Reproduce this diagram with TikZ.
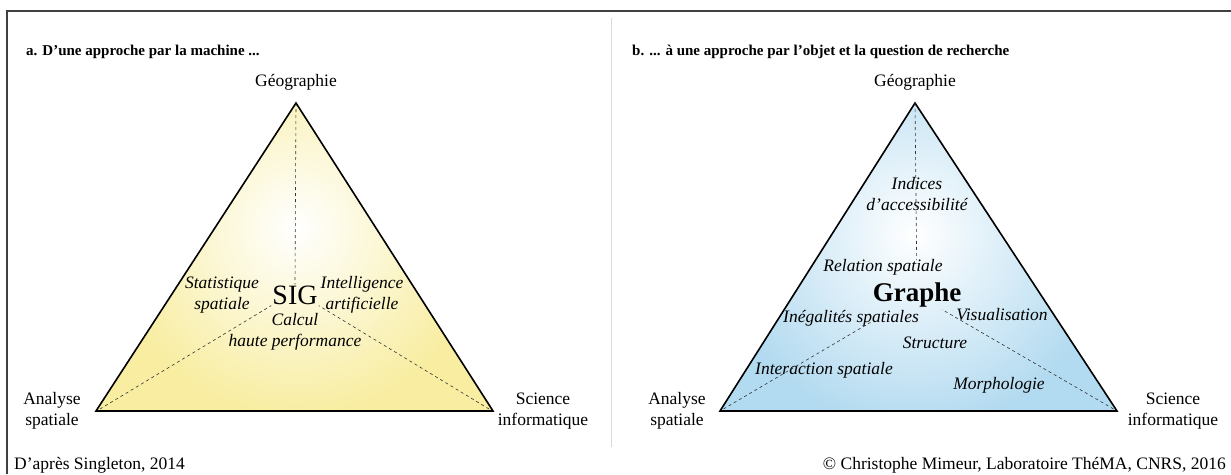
\documentclass[tikz,border=0pt]{standalone}
\usepackage{fontspec}
\setmainfont{Liberation Serif}
\usepackage{xcolor}
\usetikzlibrary{positioning, calc}

\definecolor{sigyellow}{RGB}{248,237,160}
\definecolor{grapheblue}{RGB}{178,218,240}

\begin{document}
\begin{tikzpicture}[
    x=1pt, y=-1pt,
    panel/.style={font=\fontsize{15}{18}\selectfont\bfseries, anchor=west, inner sep=0pt},
    pole/.style={font=\fontsize{17.5}{21}\selectfont, align=center, inner sep=1pt},
    theme/.style={font=\fontsize{17.5}{21}\selectfont\itshape, align=center, inner sep=1pt},
    core/.style={font=\fontsize{28}{30}\selectfont, inner sep=1pt},
    side/.style={line width=1.6pt, line join=miter},
    axis/.style={dashed, dash pattern=on 3pt off 3pt, line width=0.6pt, draw=black!80},
]
\useasboundingbox (0,0) rectangle (1231,474);

% cadre et séparation
\draw[line width=1.6pt, draw=black!75] (7,474) -- (7,11) -- (1231,11);
\draw[draw=black!15, line width=0.8pt] (611,18) -- (611,447);

% triangle a
\coordinate (geoA) at (296,103);
\coordinate (anaA) at (96,411);
\coordinate (infA) at (493,411);
\fill[sigyellow] (geoA) -- (anaA) -- (infA) -- cycle;
\begin{scope}
  \clip (geoA) -- (anaA) -- (infA) -- cycle;
  \shade[inner color=white, outer color=sigyellow] (296,228) circle (190);
\end{scope}
\draw[side] (geoA) -- (anaA) -- (infA) -- cycle;

% triangle b
\coordinate (geoB) at (915,103);
\coordinate (anaB) at (720,411);
\coordinate (infB) at (1117,411);
\fill[grapheblue] (geoB) -- (anaB) -- (infB) -- cycle;
\begin{scope}
  \clip (geoB) -- (anaB) -- (infB) -- cycle;
  \shade[inner color=white, outer color=grapheblue] (915,235) circle (195);
\end{scope}
\draw[side] (geoB) -- (anaB) -- (infB) -- cycle;

% titres
\node[panel] (titleA) at (26,52) {a. D’une approche par la machine ...};
\node[panel] (titleB) at (632,52) {b. ... à une approche par l’objet et la question de recherche};

% pôles
\node[pole] (geoAlbl) at (296,82) {Géographie};
\node[pole] (anaAlbl) at (52,411) {Analyse\\spatiale};
\node[pole] (infAlbl) at (543,411) {Science\\informatique};
\node[pole] (geoBlbl) at (915,82) {Géographie};
\node[pole] (anaBlbl) at (677,411) {Analyse\\spatiale};
\node[pole] (infBlbl) at (1173,411) {Science\\informatique};

% contenu a
\node[core] (sig) at (295,295) {SIG};
\node[theme] (stat) at (222,295) {Statistique\\spatiale};
\node[theme] (intel) at (362,295) {Intelligence\\artificielle};
\node[theme] (calcul) at (295,332) {Calcul\\haute performance};

\draw[axis] (geoA) -- (sig.north);
\draw[axis] ([shift={(4,-2)}]anaA) -- (sig.south west);
\draw[axis] ([shift={(-4,-2)}]infA) -- (sig.south east);

% contenu b
\node[core, font=\fontsize{27}{30}\selectfont\bfseries] (graphe) at (917,295) {Graphe};
\node[theme] (indices) at (917,194) {Indices\\d’accessibilité};
\node[theme] (relation) at (883,267) {Relation spatiale};
\node[theme] (inegal) at (851,318) {Inégalités spatiales};
\node[theme] (visu) at (1002,315) {Visualisation};
\node[theme] (structure) at (935,343) {Structure};
\node[theme] (interaction) at (824,370) {Interaction spatiale};
\node[theme] (morpho) at (999,385) {Morphologie};

\draw[axis, shorten >=35pt] (geoB) -- (graphe.center);
\draw[axis, shorten <=4pt, shorten >=54pt] (anaB) -- (graphe.center);
\draw[axis, shorten <=4pt, shorten >=29pt] (infB) -- (graphe.center);

% sources
\node[pole, anchor=west, inner sep=0pt] (source) at (14,465) {D’après Singleton, 2014};
\node[pole, anchor=east, inner sep=0pt] (credit) at (1226,465) {© Christophe Mimeur, Laboratoire ThéMA, CNRS, 2016};
\end{tikzpicture}
\end{document}
